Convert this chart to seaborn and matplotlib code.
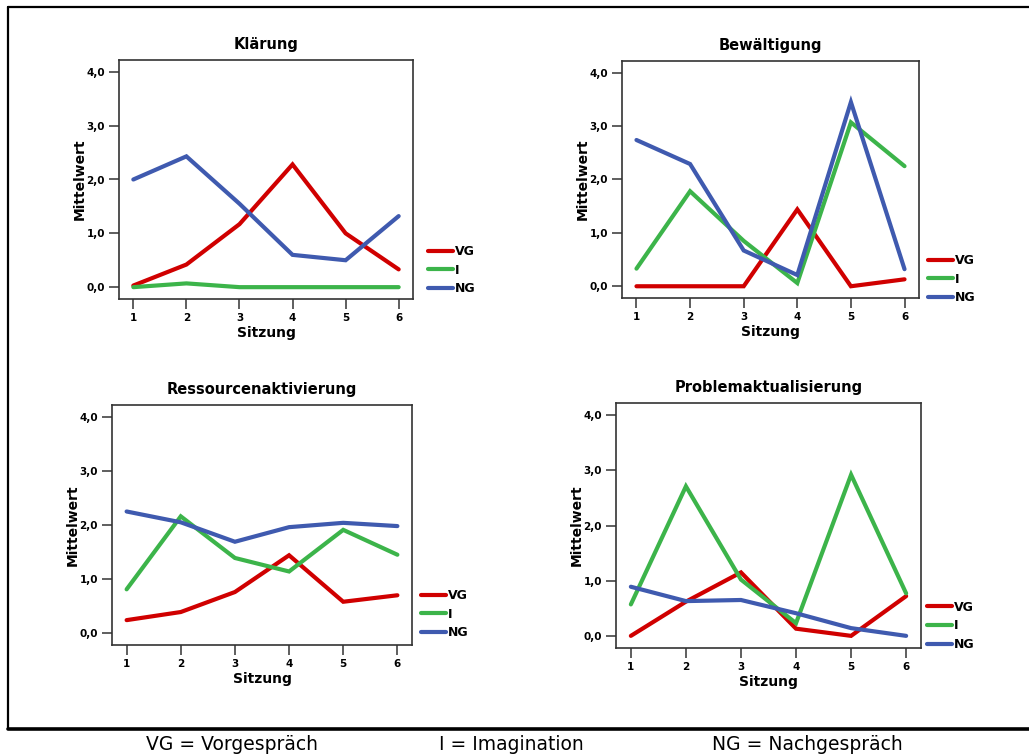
import pandas as pd
import numpy as np
import matplotlib
matplotlib.use("Agg")
import matplotlib.pyplot as plt
import matplotlib.lines as mlines
from matplotlib.ticker import FuncFormatter
import seaborn as sns

sns.set_theme(style="ticks")
plt.rcParams['font.family'] = ['DejaVu Sans']
plt.rcParams['text.color'] = 'black'
plt.rcParams['axes.labelcolor'] = 'black'
plt.rcParams['xtick.labelcolor'] = 'black'
plt.rcParams['ytick.labelcolor'] = 'black'

sessions = [1, 2, 3, 4, 5, 6]
groups = ['VG', 'I', 'NG']
colors = {'VG': '#d00000', 'I': '#3cb44a', 'NG': '#3f5aaf'}

titles = ['Klärung', 'Bewältigung', 'Ressourcenaktivierung', 'Problemaktualisierung']

klaerung_vg = [0.03, 0.42, 1.17, 2.28, 1.00, 0.33]
klaerung_i = [0.00, 0.07, 0.00, 0.00, 0.00, 0.00]
klaerung_ng = [2.00, 2.43, 1.55, 0.60, 0.50, 1.32]

bewaeltigung_vg = [0.00, 0.00, 0.00, 1.44, 0.00, 0.13]
bewaeltigung_i = [0.33, 1.78, 0.85, 0.06, 3.07, 2.25]
bewaeltigung_ng = [2.74, 2.29, 0.67, 0.21, 3.45, 0.32]

ressourcen_vg = [0.24, 0.39, 0.76, 1.44, 0.58, 0.70]
ressourcen_i = [0.81, 2.16, 1.39, 1.14, 1.91, 1.45]
ressourcen_ng = [2.25, 2.05, 1.69, 1.96, 2.04, 1.98]

problem_vg = [0.00, 0.62, 1.15, 0.13, 0.00, 0.72]
problem_i = [0.57, 2.71, 1.02, 0.23, 2.92, 0.77]
problem_ng = [0.89, 0.63, 0.65, 0.41, 0.14, 0.00]

panel_values = [
    (klaerung_vg, klaerung_i, klaerung_ng),
    (bewaeltigung_vg, bewaeltigung_i, bewaeltigung_ng),
    (ressourcen_vg, ressourcen_i, ressourcen_ng),
    (problem_vg, problem_i, problem_ng),
]

W, H = 1029, 755
fig = plt.figure(figsize=(W / 100, H / 100), dpi=100)
fig.patch.set_facecolor('white')


def px_axes(x0, y0, x1, y1):
    return fig.add_axes([x0 / W, 1 - y1 / H, (x1 - x0) / W, (y1 - y0) / H])


# pixel boxes of the four plot areas, plus legend placement
boxes = [(119, 60, 413, 299), (622, 61, 919, 298), (112, 405, 412, 645), (616, 403, 921, 648)]
legend_y = [0.121, 0.08, 0.129, 0.09]
legend_x = [1.05, 1.03, 1.03, 1.02]

comma = FuncFormatter(lambda v, p: f"{v:.1f}".replace('.', ','))

for i, (box, title, vals) in enumerate(zip(boxes, titles, panel_values)):
    ax = px_axes(*box)
    df = pd.DataFrame({
        'Sitzung': sessions * 3,
        'Mittelwert': list(vals[0]) + list(vals[1]) + list(vals[2]),
        'Gruppe': [g for g in groups for _ in sessions],
    })
    sns.lineplot(data=df, x='Sitzung', y='Mittelwert', hue='Gruppe', hue_order=groups,
                 palette=colors, linewidth=3, ax=ax, legend=True,
                 solid_capstyle='round', solid_joinstyle='miter')
    ax.set_xlim(0.73, 6.27)
    ax.set_ylim(-0.22, 4.22)
    ax.set_xticks(sessions)
    ax.set_yticks([0, 1, 2, 3, 4])
    ax.yaxis.set_major_formatter(comma)
    ax.tick_params(direction='out', length=7, width=1.1, color='#333333', labelsize=7.5, pad=3)
    for lab in ax.get_xticklabels() + ax.get_yticklabels():
        lab.set_fontweight('bold')
    for sp in ax.spines.values():
        sp.set_visible(True)
        sp.set_color('#333333')
        sp.set_linewidth(1.2)
    ax.set_title(title, fontsize=10.5, fontweight='bold', pad=8, color='black')
    ax.set_xlabel('Sitzung', fontsize=10, fontweight='bold', labelpad=2)
    ax.set_ylabel('Mittelwert', fontsize=10, fontweight='bold', labelpad=0)
    leg = ax.legend(loc='center left', bbox_to_anchor=(legend_x[i], legend_y[i]), frameon=False,
                    handlelength=2.0, handletextpad=0.15, labelspacing=0.45, borderpad=0,
                    borderaxespad=0, prop={'weight': 'bold', 'size': 9})
    for t in leg.get_texts():
        t.set_color('black')

# outer frame
fig.add_artist(mlines.Line2D([8 / W, 8 / W], [1 - 7 / H, 1 - 729 / H], color='black', lw=1.6))
fig.add_artist(mlines.Line2D([8 / W, 1], [1 - 7 / H, 1 - 7 / H], color='black', lw=1.6))
fig.add_artist(mlines.Line2D([8 / W, 1], [1 - 729 / H, 1 - 729 / H], color='black', lw=2.6))

fig.text(232 / W, 1 - 745 / H, 'VG = Vorgespräch', ha='center', va='center', fontsize=13.5)
fig.text(511 / W, 1 - 745 / H, 'I = Imagination', ha='center', va='center', fontsize=13.5)
fig.text(807 / W, 1 - 745 / H, 'NG = Nachgespräch', ha='center', va='center', fontsize=13.5)

fig.savefig('out.png', dpi=100)
